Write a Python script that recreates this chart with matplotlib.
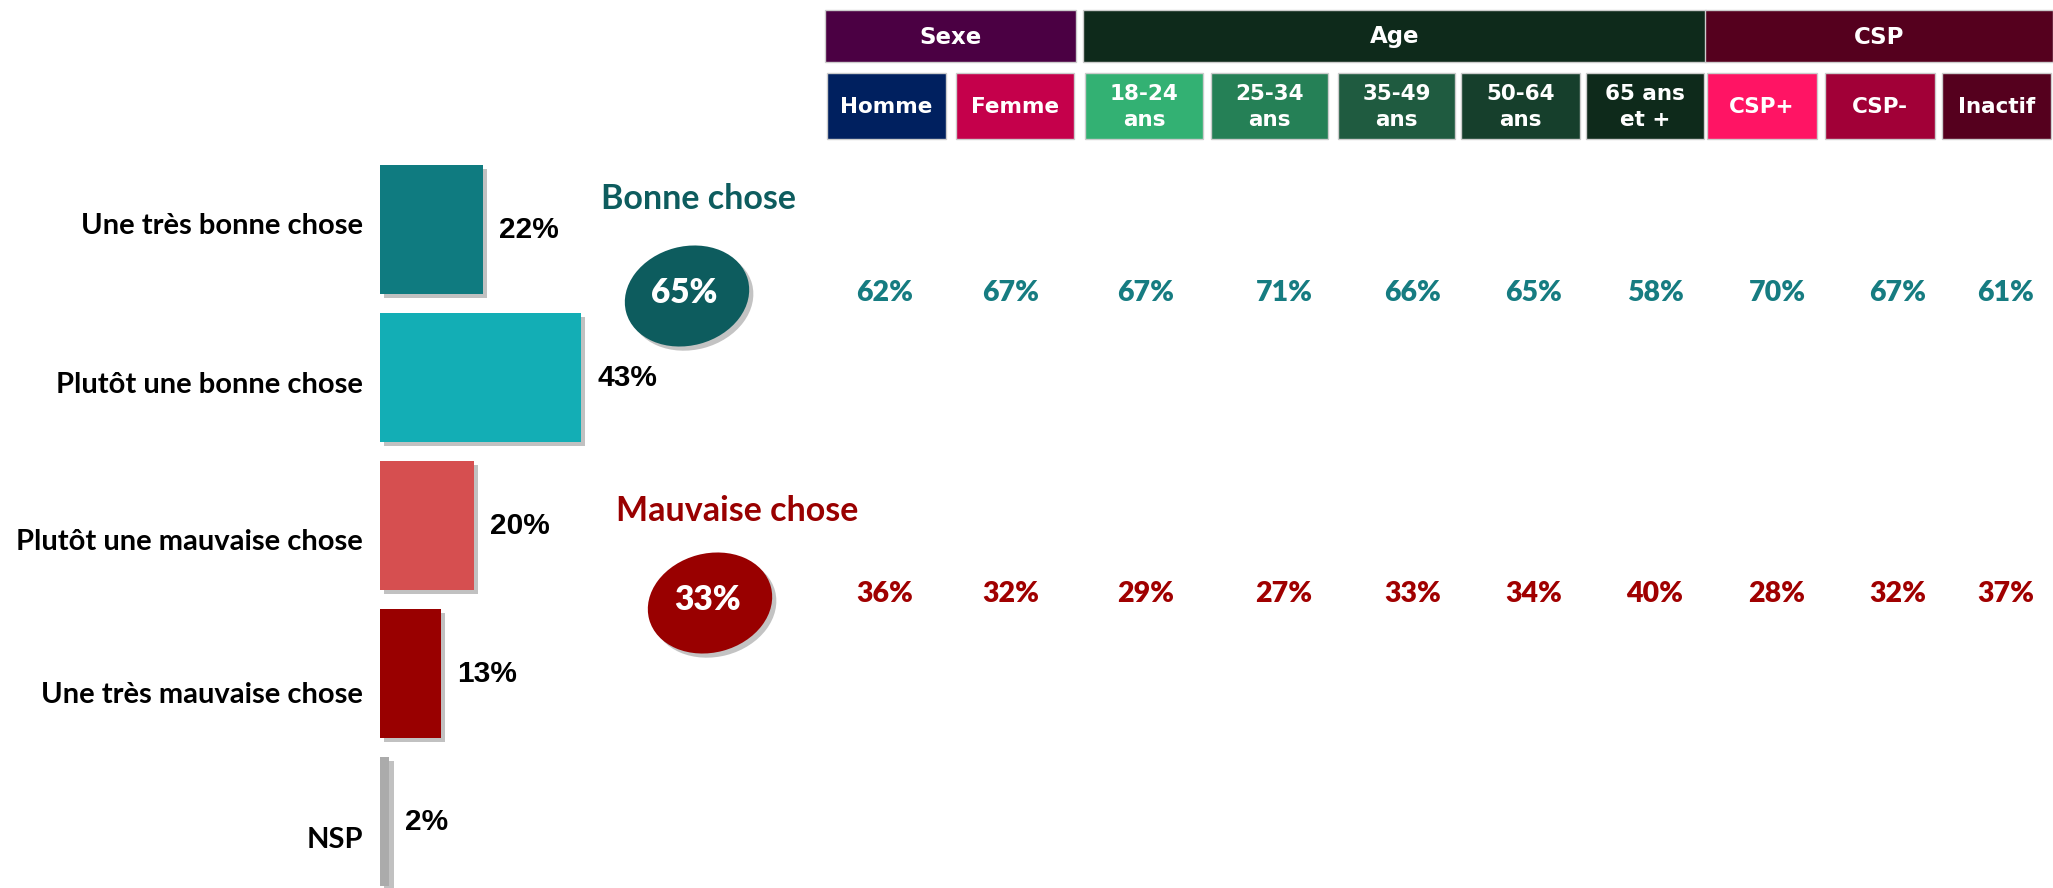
import numpy as np
import matplotlib.pyplot as plt
from matplotlib.patches import Rectangle, Ellipse
import matplotlib.patheffects as pe

# data
categories = ['Une très bonne chose', 'Plutôt une bonne chose', 'Plutôt une mauvaise chose',
              'Une très mauvaise chose', 'NSP']
values = [22, 43, 20, 13, 2]
bar_colors = ['#0f7b80', '#13aeb5', '#d64f50', '#990000', '#ababab']

total_labels = ['Bonne chose', 'Mauvaise chose']
totals = [65, 33]
total_colors = ['#0d5c5e', '#990000']

groups = ['Sexe', 'Age', 'CSP']
group_sizes = [2, 5, 3]
group_colors = ['#4b0043', '#0e2a1b', '#55001e']
subgroups = ['Homme', 'Femme', '18-24\nans', '25-34\nans', '35-49\nans', '50-64\nans',
             '65 ans\net +', 'CSP+', 'CSP-', 'Inactif']
sub_colors = ['#00205f', '#c5004b', '#33b173', '#258056', '#1f5b40', '#163f2c',
              '#0e2a1b', '#ff1464', '#a10037', '#55001e']
bonne = [62, 67, 67, 71, 66, 65, 58, 70, 67, 61]
mauvaise = [36, 32, 29, 27, 33, 34, 40, 28, 32, 37]

W, H = 2053, 888
fig = plt.figure(figsize=(W/100, H/100), dpi=100)

# overlay in pixel coords for the right side
ov = fig.add_axes([0, 0, 1, 1])
ov.set_xlim(0, W)
ov.set_ylim(H, 0)
ov.axis('off')

# bars
ax = fig.add_axes([380/W, 0, 468/W, (H-155.5)/H])
ax.patch.set_visible(False)
ax.set_xlim(0, 100)
ax.set_ylim(4.449, -0.5)
shadow = [pe.SimplePatchShadow(offset=(3, -3), shadow_rgbFace='#999999', alpha=0.6), pe.Normal()]
bars = ax.barh(range(len(values)), values, height=0.87, color=bar_colors)
for b in bars:
    b.set_path_effects(shadow)
for i, v in enumerate(values):
    ax.text(v + 3.4, i, f'{v}%', va='center', ha='left', fontfamily='Liberation Sans',
            fontweight='bold', fontsize=21.5, color='black')

# category labels (slightly lower than bar centers, as in the slide)
label_dy = [-4, 7, 16, 21, 18]
for i, c in enumerate(categories):
    ax.annotate(c, (0, i), xytext=(-17, -label_dy[i]), textcoords='offset pixels',
                ha='right', va='center', fontfamily='Lato', fontweight='bold', fontsize=21,
                annotation_clip=False)
ax.set_xticks([])
ax.set_yticks([])
for s in ax.spines.values():
    s.set_visible(False)

# totals with ellipses
title_pos = [(601, 209), (616, 521)]
ell_pos = [(687, 296), (710, 603)]
for k in range(2):
    ov.text(title_pos[k][0], title_pos[k][1], total_labels[k], ha='left', va='baseline',
            fontfamily='Lato', fontweight='bold', fontsize=24.5, color=total_colors[k])
    e = Ellipse(ell_pos[k], 126, 99, angle=-15, facecolor=total_colors[k], edgecolor='none')
    e.set_path_effects([pe.SimplePatchShadow(offset=(3, -3), shadow_rgbFace='#888888', alpha=0.5),
                        pe.Normal()])
    ov.add_patch(e)
    ov.text(ell_pos[k][0] - 3, ell_pos[k][1] - 3, f'{totals[k]}%', ha='center', va='center',
            fontfamily='Lato', fontweight='heavy', fontsize=24, color='white')

# header boxes
sub_left = [827, 956, 1085, 1211, 1338, 1461, 1586, 1707, 1825, 1942]
sub_right = [946, 1074, 1203, 1328, 1455, 1580, 1704, 1817, 1935, 2051]
val_x = [885, 1011, 1146, 1284, 1413, 1534, 1655, 1777, 1898, 2006]
hdr = dict(fontfamily='DejaVu Sans', fontweight='bold', color='white', ha='center', va='center')
start = 0
for g, n, c in zip(groups, group_sizes, group_colors):
    x0 = sub_left[start] - 2
    x1 = sub_right[start + n - 1] + 2
    ov.add_patch(Rectangle((x0, 10), x1 - x0, 52, facecolor=c, edgecolor='#cccccc', lw=1))
    ov.text((x0 + x1) / 2, 37, g, fontsize=16.5, **hdr)
    start += n

for i, lab in enumerate(subgroups):
    x0, x1 = sub_left[i], sub_right[i]
    ov.add_patch(Rectangle((x0, 73), x1 - x0, 66, facecolor=sub_colors[i], edgecolor='#cccccc', lw=1))
    ov.text((x0 + x1) / 2, 107, lab, fontsize=15.5, linespacing=1.4, **hdr)
    ov.text(val_x[i], 293, f'{bonne[i]}%', ha='center', va='center', fontfamily='Lato',
            fontweight='heavy', fontsize=20.5, color='#167c81')
    ov.text(val_x[i], 594, f'{mauvaise[i]}%', ha='center', va='center', fontfamily='Lato',
            fontweight='heavy', fontsize=20.5, color='#a00000')

fig.savefig('out.png', dpi=100)
